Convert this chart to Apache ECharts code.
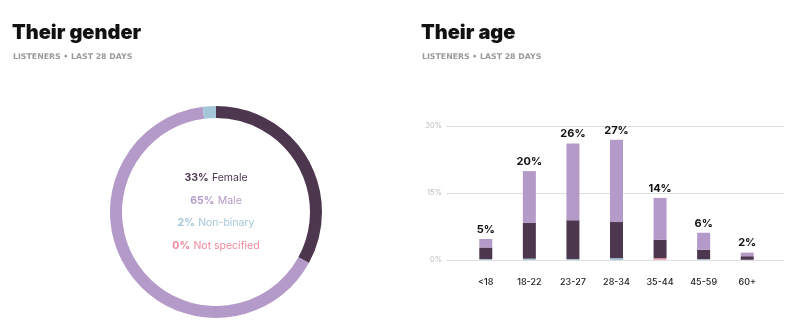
<!DOCTYPE html>
<html><head><meta charset="utf-8">
<script src="https://cdn.jsdelivr.net/npm/echarts@6/dist/echarts.min.js"></script>
<style>html,body{margin:0;padding:0;background:#fff}#c{width:800px;height:336px}</style>
</head><body><div id="c"></div>
<script>
// Gender data (percent)
const genderNames = ['Female', 'Male', 'Non-binary', 'Not specified'];
const genderValues = [33, 65, 2, 0];
const genderColors = ['#4d374f', '#b39ac8', '#a3c6d8', '#f2899a'];

// Age data (percent of listeners)
const ageCategories = ['<18', '18-22', '23-27', '28-34', '35-44', '45-59', '60+'];
const ageFemale = [2.6, 8.0, 8.7, 8.1, 4.1, 2.1, 0.8];
const ageMale = [1.9, 11.6, 17.2, 18.4, 9.4, 3.8, 0.8];
const ageNonBinary = [0.2, 0.3, 0.2, 0.4, 0.1, 0.2, 0.05];
const ageNotSpecified = [0, 0, 0, 0, 0.3, 0, 0];
const ageTotalLabels = ['5%', '20%', '26%', '27%', '14%', '6%', '2%'];
const yTicks = [0, 15, 30];

const font = 'Inter, "Noto Sans", sans-serif';
const chart = echarts.init(document.getElementById('c'), null, {renderer: 'canvas'});

const rich = {};
genderNames.forEach((n, i) => {
  rich['b' + i] = {fontFamily: font, fontSize: 10.5, fontWeight: 'bold', fill: genderColors[i], lineHeight: 22.5};
  rich['n' + i] = {fontFamily: font, fontSize: 10.5, fill: genderColors[i], lineHeight: 22.5};
});
const centerText = genderNames.map((n, i) => `{b${i}|${genderValues[i]}%} {n${i}|${n}}`).join('\n');

const titleStyle = {fontFamily: font, fontSize: 20, fontWeight: 900, color: '#111'};
const subStyle = {fontFamily: '"DejaVu Sans", sans-serif', fontSize: 7.8, fontWeight: 'bold', color: '#9a9a9a'};

chart.setOption({
  animation: false,
  title: [
    {text: 'Their gender', left: 7, top: 18, textStyle: titleStyle},
    {text: 'LISTENERS • LAST 28 DAYS', left: 8, top: 48, textStyle: subStyle},
    {text: 'Their age', left: 416, top: 18, textStyle: titleStyle},
    {text: 'LISTENERS • LAST 28 DAYS', left: 417, top: 48, textStyle: subStyle}
  ],
  graphic: [{
    type: 'text', x: 216, y: 212, silent: true,
    style: {text: centerText, rich: rich, align: 'center', verticalAlign: 'middle'}
  }],
  grid: [
    {left: 446, right: 16, top: 126, bottom: 76},
    {left: 464, width: 305, top: 126, bottom: 76}
  ],
  xAxis: [
    {gridIndex: 0, type: 'category', data: ageCategories, show: false},
    {gridIndex: 1, type: 'category', data: ageCategories,
     axisLine: {show: false}, axisTick: {show: false},
     axisLabel: {fontFamily: font, fontSize: 9, fontWeight: 500, color: '#222', margin: 18}}
  ],
  yAxis: [
    {gridIndex: 0, type: 'value', min: yTicks[0], max: yTicks[yTicks.length - 1], interval: 15,
     axisLine: {show: false}, axisTick: {show: false},
     axisLabel: {fontFamily: font, fontSize: 7.5, color: '#bbb', margin: 4, formatter: '{value}%'},
     splitLine: {lineStyle: {color: '#dedede', width: 1}}},
    {gridIndex: 1, type: 'value', min: 0, max: 30, show: false, splitLine: {show: false}}
  ],
  series: [
    {type: 'pie', center: [216, 212], radius: [94, 106], startAngle: 90, clockwise: true,
     label: {show: false}, labelLine: {show: false}, silent: true,
     data: genderNames.map((n, i) => ({name: n, value: genderValues[i], itemStyle: {color: genderColors[i]}}))},
    {type: 'bar', xAxisIndex: 1, yAxisIndex: 1, stack: 'a', barWidth: 13, data: ageNonBinary, itemStyle: {color: genderColors[2]}},
    {type: 'bar', xAxisIndex: 1, yAxisIndex: 1, stack: 'a', barWidth: 13, data: ageNotSpecified, itemStyle: {color: genderColors[3]}},
    {type: 'bar', xAxisIndex: 1, yAxisIndex: 1, stack: 'a', barWidth: 13, data: ageFemale, itemStyle: {color: genderColors[0]}},
    {type: 'bar', xAxisIndex: 1, yAxisIndex: 1, stack: 'a', barWidth: 13, data: ageMale, itemStyle: {color: genderColors[1]},
     label: {show: true, position: 'top', distance: 4, fontFamily: font, fontSize: 11, fontWeight: 'bold', color: '#111',
       formatter: p => ageTotalLabels[p.dataIndex]}}
  ]
});
</script></body></html>
